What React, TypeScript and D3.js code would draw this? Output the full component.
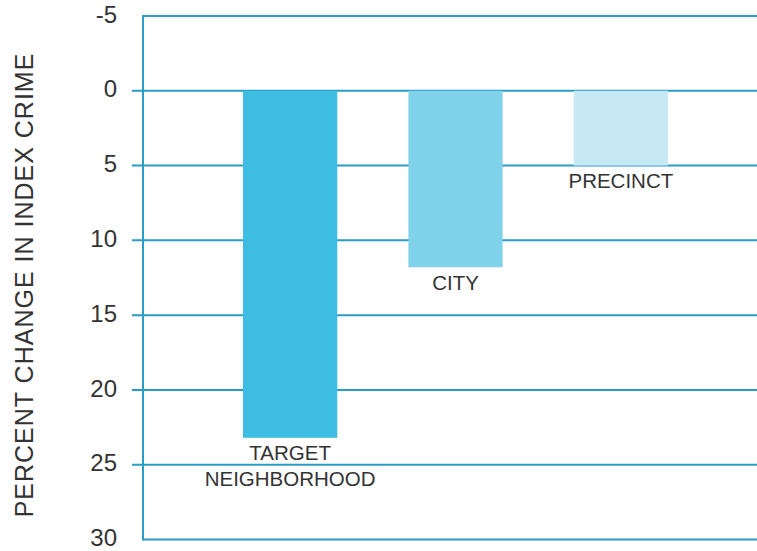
import React from "react";
import * as d3 from "d3";

const categories = ["TARGET NEIGHBORHOOD", "CITY", "PRECINCT"];
const labelLines = [["TARGET", "NEIGHBORHOOD"], ["CITY"], ["PRECINCT"]];
const values = [23.2, 11.8, 5.0];
const barColors = ["#3dbde2", "#80d1ea", "#c6e9f3"];
const yTicks = [-5, 0, 5, 10, 15, 20, 25, 30];
const yTitle = "PERCENT CHANGE IN INDEX CRIME";

const W = 757;
const H = 551;
const axisX = 143;
const gridColor = "#2a9cc6";
const textColor = "#333333";

export default function App() {
  const y = d3.scaleLinear().domain([-5, 30]).range([16, 539.5]);
  const x = d3
    .scaleBand<string>()
    .domain(categories)
    .range([243, 668])
    .paddingInner(0.43)
    .paddingOuter(0);

  return (
    <svg
      width={W}
      height={H}
      style={{ position: "absolute", left: 0, top: 0, display: "block", background: "#fff" }}
      fontFamily="'Liberation Sans', Arial, sans-serif"
    >
      <rect x={0} y={0} width={W} height={H} fill="#fff" />
      {yTicks.map((t, i) => {
        const isEdge = i === 0 || i === yTicks.length - 1;
        return (
          <g key={t}>
            <line
              x1={isEdge ? axisX : axisX - 11}
              x2={W}
              y1={y(t)}
              y2={y(t)}
              stroke={gridColor}
              strokeWidth={2}
            />
            <text
              x={117}
              y={y(t) - 2}
              dy="0.36em"
              textAnchor="end"
              fontSize={24}
              fill={textColor}
            >
              {t}
            </text>
          </g>
        );
      })}
      <line x1={axisX} x2={axisX} y1={y(-5) - 1} y2={y(30) + 1} stroke={gridColor} strokeWidth={2} />
      {categories.map((c, i) => {
        const x0 = x(c) as number;
        const bw = x.bandwidth();
        const top = y(0);
        const bottom = y(values[i]);
        const cx = x0 + bw / 2;
        return (
          <g key={c}>
            <rect x={x0} y={top} width={bw} height={bottom - top} fill={barColors[i]} />
            {labelLines[i].map((ln, j) => (
              <text
                key={ln}
                x={cx}
                y={bottom + 22.5 + j * 26}
                textAnchor="middle"
                fontSize={20.5}
                fill={textColor}
              >
                {ln}
              </text>
            ))}
          </g>
        );
      })}
      <text
        transform={`translate(33, 285) rotate(-90)`}
        textAnchor="middle"
        fontSize={25}
        letterSpacing={1}
        fill={textColor}
      >
        {yTitle}
      </text>
    </svg>
  );
}
